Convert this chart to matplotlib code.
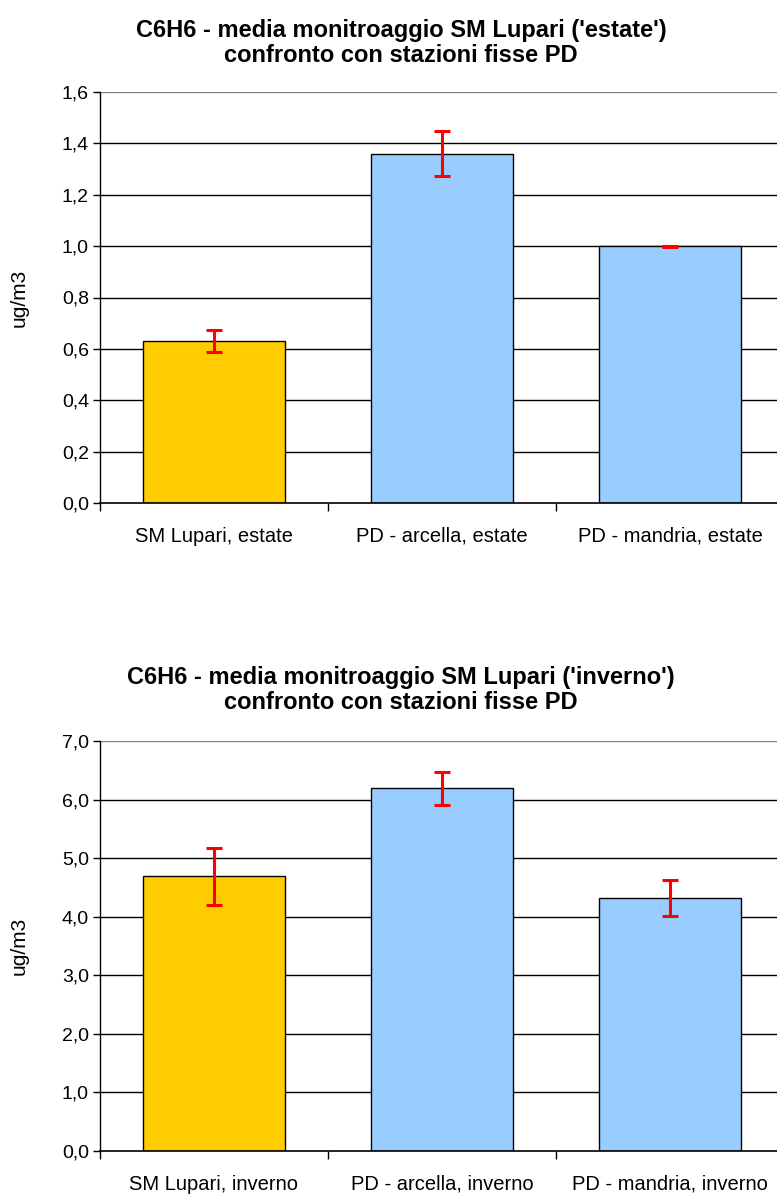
import matplotlib
matplotlib.use("Agg")
import matplotlib.pyplot as plt
from matplotlib.ticker import FuncFormatter

plt.rcParams['font.family'] = ['Liberation Sans', 'DejaVu Sans']

summer_cats = ["SM Lupari, estate", "PD - arcella, estate", "PD - mandria, estate"]
summer_vals = [0.63, 1.36, 1.00]
summer_err = [0.043, 0.088, 0.002]

winter_cats = ["SM Lupari, inverno", "PD - arcella, inverno", "PD - mandria, inverno"]
winter_vals = [4.69, 6.19, 4.32]
winter_err = [0.49, 0.28, 0.31]

summer_title = "C6H6 - media monitroaggio SM Lupari ('estate')\nconfronto con stazioni fisse PD"
winter_title = "C6H6 - media monitroaggio SM Lupari ('inverno')\nconfronto con stazioni fisse PD"

bar_colors = ["#FFCC00", "#99CCFF", "#99CCFF"]

W, H = 777, 1194
fig = plt.figure(figsize=(W / 100, H / 100), dpi=100)


def draw(rect, cats, vals, errs, ymax, ystep, title, title_y):
    ax = fig.add_axes(rect)
    x = list(range(len(cats)))
    ax.set_xlim(-0.5, len(cats) - 0.5)
    ax.set_ylim(0, ymax)
    nt = int(round(ymax / ystep))
    ticks = [i * ystep for i in range(nt + 1)]
    ax.set_yticks(ticks)
    ax.yaxis.set_major_formatter(FuncFormatter(lambda v, p: f"{v:.1f}".replace(".", ",")))
    for t in ticks[1:]:
        ax.axhline(t, color="#000000" if t < ymax - 1e-9 else "#808080", lw=1.0, zorder=1)
    ax.bar(x, vals, width=0.62, color=bar_colors, edgecolor="black", linewidth=1.0, zorder=2)
    ax.errorbar(x, vals, yerr=errs, fmt="none", ecolor="#FF0000", elinewidth=2.2,
                capsize=5.5, capthick=2.2, zorder=3)
    ax.set_xticks(x)
    ax.set_xticklabels(cats, fontsize=14.5)
    ax.set_xticks([i - 0.5 for i in range(len(cats) + 1)], minor=True)
    ax.tick_params(axis="x", which="major", length=0, pad=17)
    ax.tick_params(axis="x", which="minor", length=6, width=1, direction="out")
    ax.tick_params(axis="y", length=5, width=1, direction="out", labelsize=14, pad=3)
    for s in ["top", "right"]:
        ax.spines[s].set_visible(False)
    ax.spines["left"].set_linewidth(1.0)
    ax.spines["bottom"].set_linewidth(1.2)
    ax.set_ylabel("ug/m3", fontsize=15)
    ax.yaxis.set_label_coords(-0.104, 0.5)
    fig.text(401 / W, title_y, title, ha="center", va="center", fontsize=17,
             fontweight="bold", linespacing=1.15)
    return ax


ax1 = draw([100 / W, 691 / H, 684 / W, 411 / H], summer_cats, summer_vals, summer_err,
           1.6, 0.2, summer_title, 1 - 43 / H)
ax2 = draw([100 / W, 43 / H, 684 / W, 410 / H], winter_cats, winter_vals, winter_err,
           7.0, 1.0, winter_title, 1 - 690 / H)

fig.savefig("out.png", dpi=100)
